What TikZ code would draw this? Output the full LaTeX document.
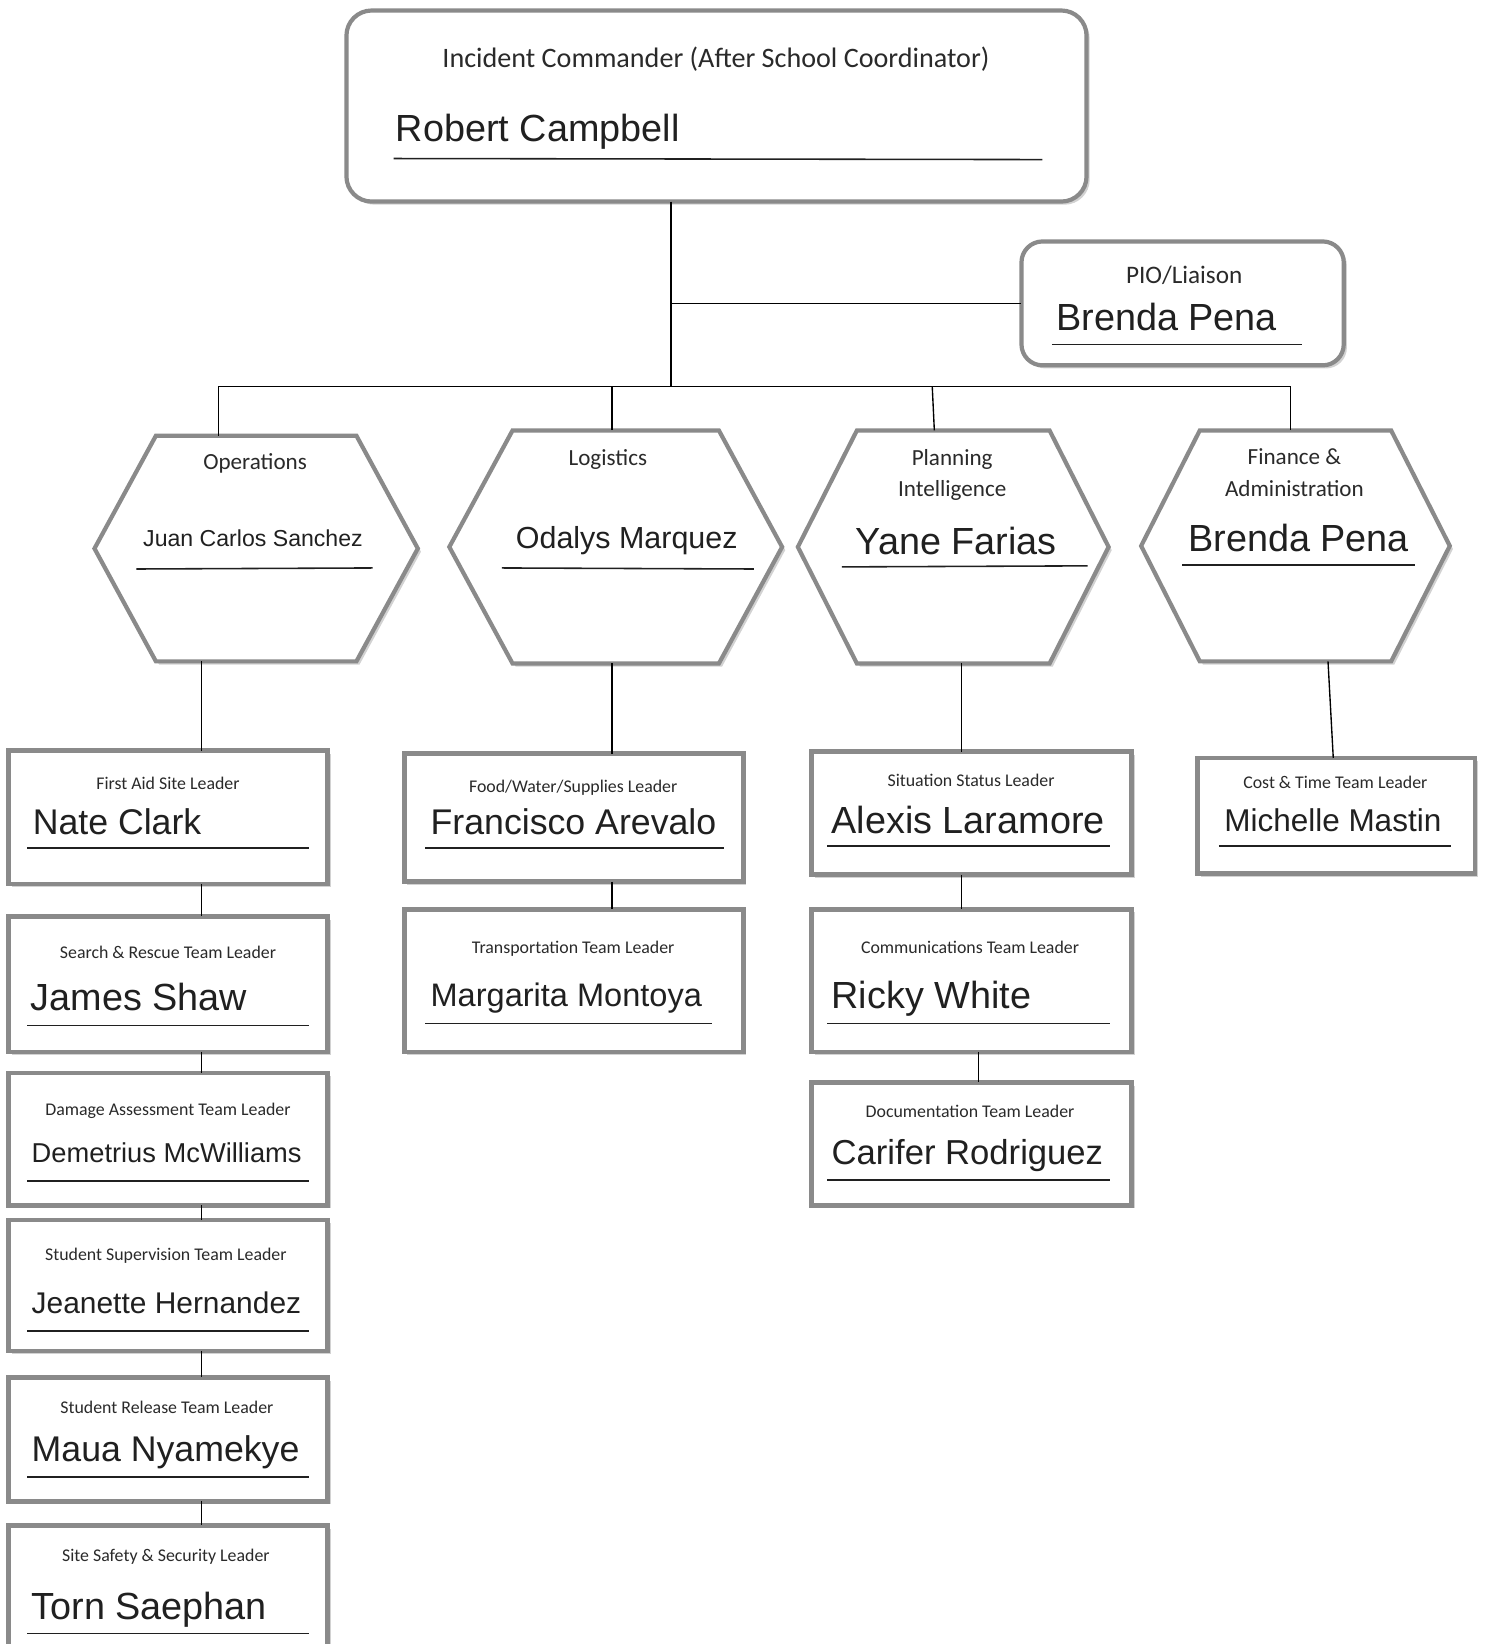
\documentclass[tikz,border=0pt]{standalone}
\usepackage{fontspec}
\setmainfont{Liberation Sans}
\newfontfamily\calib{Carlito}
\usetikzlibrary{calc,shadows}
\definecolor{bord}{HTML}{8A8A8A}
\definecolor{txt}{HTML}{202020}
\definecolor{ttlc}{HTML}{2A2A2A}
\tikzset{
  conn/.style={draw=black, line width=1.3pt},
  uline/.style={draw=txt, line width=1.5pt},
  shad/.style={drop shadow={shadow xshift=3pt, shadow yshift=-3pt, fill=gray, opacity=0.35}},
  roundbox/.style={draw=bord, line width=4pt, fill=white, rounded corners=24pt, shad, inner sep=0pt, outer sep=0pt},
  leafbox/.style={draw=bord, line width=4.5pt, fill=white, shad, inner sep=0pt, outer sep=0pt},
  hexframe/.style={inner sep=0pt, outer sep=0pt, draw=none},
  hexline/.style={draw=bord, line width=4pt, fill=white, shad, line join=miter},
  ttl/.style={font=\calib\fontsize{#1}{#1}\selectfont, text=ttlc, inner sep=0pt, anchor=base, yshift=-#1*0.322pt},
  nm/.style={anchor=base west, text=txt, inner sep=0pt, font=\fontsize{#1}{#1}\selectfont, yshift=-#1*0.358pt},
  nmc/.style={anchor=base, text=txt, inner sep=0pt, font=\fontsize{#1}{#1}\selectfont, yshift=-#1*0.358pt},
}
\newcommand\hexshape[1]{\path[hexline] (#1.west) -- ($(#1.north west)!0.19!(#1.north east)$) -- ($(#1.north east)!0.19!(#1.north west)$) -- (#1.east) -- ($(#1.south east)!0.19!(#1.south west)$) -- ($(#1.south west)!0.19!(#1.south east)$) -- cycle;}
\begin{document}
\begin{tikzpicture}[x=1pt,y=-1pt]
\fill[white] (0,0) rectangle (1420,1566);
\useasboundingbox (0,0) rectangle (1420,1566);

% ---------- Incident commander ----------
\node[roundbox, minimum width=705pt, minimum height=182pt] (ic) at (682.5,101) {};
\node[ttl=26.8] (ict) at (682,56) {Incident Commander (After School Coordinator)};
\node[nm=36] (icn) at (377,122) {Robert Campbell};
\draw[uline] (375,151) -- (993,152);

% ---------- PIO ----------
\node[roundbox, rounded corners=20pt, minimum width=307pt, minimum height=118pt] (pio) at (1126.5,289) {};
\node[ttl=24] (piot) at (1128,262) {PIO/Liaison};
\node[nm=36] (pion) at (1006,302) {Brenda Pena};
\draw[uline] (1002,328) -- (1240,328);

% ---------- hexagons ----------
\node[hexframe, minimum width=308pt, minimum height=215pt] (ops) at (244,522.5) {};
\node[hexframe, minimum width=317pt, minimum height=222pt] (log) at (586.5,521) {};
\node[hexframe, minimum width=296pt, minimum height=222pt] (pla) at (908,521) {};
\node[hexframe, minimum width=294pt, minimum height=220pt] (fin) at (1234,520) {};
\hexshape{ops}
\hexshape{log}
\hexshape{pla}
\hexshape{fin}

\node[ttl=22] (opst) at (243,440) {Operations};
\node[nmc=22] (opsn) at (241,513) {Juan Carlos Sanchez};
\draw[uline] (130,542) -- (355,541);

\node[ttl=22] (logt) at (579,436) {Logistics};
\node[nmc=29] (logn) at (597,512) {Odalys Marquez};
\draw[uline] (478,541) -- (718,542);

\node[ttl=22] (plat1) at (907,436) {Planning};
\node[ttl=22] (plat2) at (907,466) {Intelligence};
\node[nmc=36] (plan) at (911,515) {Yane Farias};
\draw[uline] (802,540) -- (1036,539);

\node[ttl=22] (fint1) at (1233,435) {Finance \&};
\node[ttl=22] (fint2) at (1233,466) {Administration};
\node[nmc=36] (finn) at (1237,512) {Brenda Pena};
\draw[uline] (1126,538) -- (1348,538);

% ---------- Operations column ----------
\node[leafbox, minimum width=304pt, minimum height=127pt] (fa) at (160,778.5) {};
\node[ttl=17] (fat) at (160,747) {First Aid Site Leader};
\node[nm=34] (fan) at (31,783) {Nate Clark};
\draw[uline] (26,808) -- (294,808);

\node[leafbox, minimum width=304pt, minimum height=129pt] (sr) at (160,937.5) {};
\node[ttl=17] (srt) at (160,908) {Search \& Rescue Team Leader};
\node[nm=36] (srn) at (29,950) {James Shaw};
\draw[uline] (26,977) -- (294,977);

\node[leafbox, minimum width=304pt, minimum height=126pt] (da) at (160,1085) {};
\node[ttl=17] (dat) at (160,1057) {Damage Assessment Team Leader};
\node[nm=26] (dan) at (30,1098) {Demetrius McWilliams};
\draw[uline] (26,1125) -- (294,1125);

\node[leafbox, minimum width=304pt, minimum height=125pt] (ss) at (160,1224.5) {};
\node[ttl=17] (sst) at (158,1195) {Student Supervision Team Leader};
\node[nm=28.5] (ssn) at (30,1241) {Jeanette Hernandez};
\draw[uline] (26,1268) -- (294,1268);

\node[leafbox, minimum width=304pt, minimum height=118pt] (srl) at (160,1371) {};
\node[ttl=17] (srlt) at (159,1341) {Student Release Team Leader};
\node[nm=34] (srln) at (30,1380) {Maua Nyamekye};
\draw[uline] (26,1407) -- (294,1407);

\node[leafbox, minimum width=304pt, minimum height=140pt] (saf) at (160,1523) {};
\node[ttl=17] (saft) at (158,1482) {Site Safety \& Security Leader};
\node[nm=36] (safn) at (30,1530) {Torn Saephan};
\draw[uline] (26,1556) -- (294,1556);

% ---------- Logistics column ----------
\node[leafbox, minimum width=323pt, minimum height=122pt] (fw) at (546.5,779) {};
\node[ttl=17] (fwt) at (546,749) {Food/Water/Supplies Leader};
\node[nm=34] (fwn) at (410,783) {Francisco Arevalo};
\draw[uline] (405,808) -- (690,808);

\node[leafbox, minimum width=323pt, minimum height=136pt] (tr) at (546.5,934) {};
\node[ttl=17] (trt) at (546,903) {Transportation Team Leader};
\node[nm=31] (trn) at (410,948) {Margarita Montoya};
\draw[uline] (405,975) -- (678,975);

% ---------- Planning column ----------
\node[leafbox, minimum width=305pt, minimum height=117pt] (sit) at (925.5,774.5) {};
\node[ttl=17] (sitt) at (925,744) {Situation Status Leader};
\node[nm=36] (sitn) at (792,781) {Alexis Laramore};
\draw[uline] (788,806) -- (1057,806);

\node[leafbox, minimum width=305pt, minimum height=136pt] (com) at (925.5,934) {};
\node[ttl=17] (comt) at (924,903) {Communications Team Leader};
\node[nm=36] (comn) at (792,948) {Ricky White};
\draw[uline] (788,975) -- (1057,975);

\node[leafbox, minimum width=305pt, minimum height=117pt] (doc) at (925.5,1089.5) {};
\node[ttl=17] (doct) at (924,1059) {Documentation Team Leader};
\node[nm=33] (docn) at (792,1097) {Carifer Rodriguez};
\draw[uline] (788,1124) -- (1057,1124);

% ---------- Finance column ----------
\node[leafbox, minimum width=264pt, minimum height=110pt] (cost) at (1273,777) {};
\node[ttl=17] (costt) at (1272,746) {Cost \& Time Team Leader};
\node[nm=30] (costn) at (1166,781) {Michelle Mastin};
\draw[uline] (1161,806) -- (1382,806);

% ---------- connectors ----------
\coordinate (busv) at (639,368);
\coordinate (dops) at (208,368);
\coordinate (dlog) at (583,368);
\coordinate (dpla) at (888,368);
\coordinate (dplb) at (890,368);
\coordinate (dfin) at (1229,368);
\coordinate (cops) at (192,0);
\coordinate (clog) at (583,0);
\coordinate (cpla) at (916,0);
\coordinate (cplb) at (932,0);
\coordinate (cfa) at (1265,0);
\coordinate (cfb) at (1270,0);

\draw[conn] (ic.south -| busv) -- (busv);
\draw[conn] (busv |- pio.west) -- (pio.west);
\draw[conn] (dops) -- (dfin);
\draw[conn] (dops) -- (dops |- ops.north);
\draw[conn] (dlog) -- (dlog |- log.north);
\draw[conn] (dpla) -- (dplb |- pla.north);
\draw[conn] (dfin) -- (dfin |- fin.north);

\draw[conn] (cops |- ops.south) -- (cops |- fa.north);
\draw[conn] (cops |- fa.south) -- (cops |- sr.north);
\draw[conn] (cops |- sr.south) -- (cops |- da.north);
\draw[conn] (cops |- da.south) -- (cops |- ss.north);
\draw[conn] (cops |- ss.south) -- (cops |- srl.north);
\draw[conn] (cops |- srl.south) -- (cops |- saf.north);

\draw[conn] (clog |- log.south) -- (clog |- fw.north);
\draw[conn] (clog |- fw.south) -- (clog |- tr.north);

\draw[conn] (cpla |- pla.south) -- (cpla |- sit.north);
\draw[conn] (cpla |- sit.south) -- (cpla |- com.north);
\draw[conn] (cplb |- com.south) -- (cplb |- doc.north);

\draw[conn] (cfa |- fin.south) -- (cfb |- cost.north);
\end{tikzpicture}
\end{document}
